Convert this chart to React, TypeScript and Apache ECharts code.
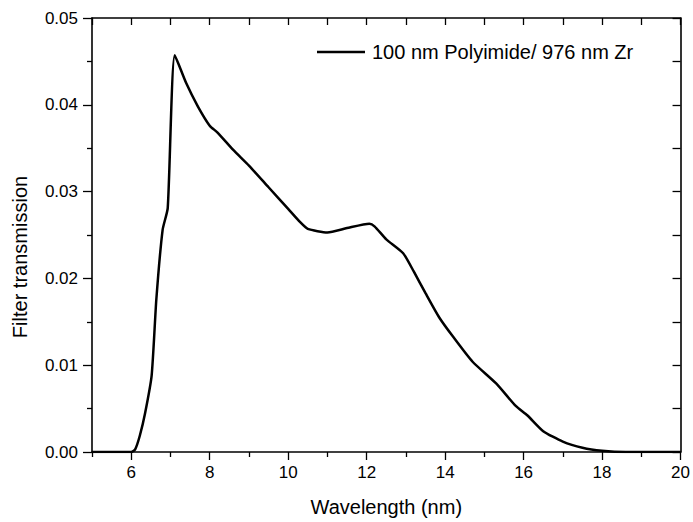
import React, { useEffect, useRef } from "react";
import * as echarts from "echarts";

const wavelength = [
  5.0, 6.0, 6.1, 6.22, 6.35, 6.52, 6.64, 6.8, 6.93, 7.11, 7.4, 7.7, 8.0, 8.2, 8.6, 9.0,
  9.5, 10.0, 10.3, 10.5, 11.0, 11.5, 12.07, 12.2, 12.5, 12.93, 13.2, 13.5, 13.85, 14.2,
  14.7, 15.3, 15.8, 16.1, 16.5, 17.0, 17.5, 18.0, 18.6, 20.0,
];
const transmission = [
  0, 0, 0.0003, 0.0019, 0.0044, 0.0088, 0.0176, 0.0256, 0.0281, 0.0457, 0.0425, 0.0398,
  0.0376, 0.0368, 0.0348, 0.033, 0.0305, 0.028, 0.0265, 0.0257, 0.0253, 0.0258, 0.0263,
  0.026, 0.0245, 0.0229, 0.0208, 0.0183, 0.0155, 0.0133, 0.0104, 0.0079, 0.0053, 0.0042,
  0.0024, 0.0012, 0.0005, 0.00015, 0, 0,
];
const xMajorTicks = [6, 8, 10, 12, 14, 16, 18, 20];
const xMinorTicks = [5, 7, 9, 11, 13, 15, 17, 19];
const seriesName = "100 nm Polyimide/ 976 nm Zr";
const xTitle = "Wavelength (nm)";
const yTitle = "Filter transmission";

export default function App() {
  const ref = useRef<HTMLDivElement>(null);
  useEffect(() => {
    const chart = echarts.init(ref.current!, null, { renderer: "svg" });
    const font = "Liberation Sans, Arial, sans-serif";
    const lineStyle = { color: "#000", width: 1.6 };
    const axisLine = { show: true, onZero: false, lineStyle };
    const tickStyle = { color: "#000", width: 1.3 };
    const labelStyle = { fontFamily: font, fontSize: 17, color: "#000" };
    chart.setOption({
      animation: false,
      backgroundColor: "#fff",
      grid: { left: 92, right: 11, top: 18, bottom: 69, containLabel: false },
      legend: {
        data: [seriesName],
        left: 312,
        top: 37,
        itemWidth: 48,
        itemHeight: 2.5,
        icon: "rect",
        itemStyle: { color: "#000" },
        textStyle: { fontFamily: font, fontSize: 20, color: "#000", padding: [0, 0, 0, 2] },
      },
      graphic: [
        {
          type: "text",
          x: 20,
          y: 257,
          rotation: Math.PI / 2,
          style: {
            text: yTitle,
            fontFamily: font,
            fontSize: 20,
            fill: "#000",
            align: "center",
            verticalAlign: "middle",
          },
        },
      ],
      xAxis: [
        {
          type: "value",
          position: "bottom",
          min: 5,
          max: 20,
          interval: 1,
          name: xTitle,
          nameLocation: "middle",
          nameGap: 45,
          nameTextStyle: { fontFamily: font, fontSize: 20, color: "#000" },
          axisLine,
          axisTick: { show: true, inside: false, length: 8, customValues: xMajorTicks, lineStyle: tickStyle },
          axisLabel: { ...labelStyle, margin: 12, customValues: xMajorTicks, formatter: (v: number) => String(v) },
          splitLine: { show: false },
        },
        {
          type: "value",
          position: "bottom",
          min: 5,
          max: 20,
          interval: 1,
          axisLine: { show: false },
          axisTick: { show: true, inside: false, length: 5, customValues: xMinorTicks, lineStyle: tickStyle },
          axisLabel: { show: false },
          splitLine: { show: false },
        },
        {
          type: "value",
          position: "top",
          min: 5,
          max: 20,
          interval: 1,
          axisLine,
          axisTick: { show: true, inside: true, length: 7, lineStyle: tickStyle },
          axisLabel: { show: false },
          splitLine: { show: false },
        },
      ],
      yAxis: [
        {
          type: "value",
          position: "left",
          min: 0,
          max: 0.05,
          interval: 0.01,
          axisLine,
          axisTick: { show: true, inside: false, length: 9, lineStyle: tickStyle },
          minorTick: { show: true, splitNumber: 2, length: 5, lineStyle: tickStyle },
          axisLabel: { ...labelStyle, margin: 14, formatter: (v: number) => v.toFixed(2) },
          splitLine: { show: false },
        },
        {
          type: "value",
          position: "right",
          min: 0,
          max: 0.05,
          interval: 0.005,
          axisLine,
          axisTick: { show: true, inside: true, length: 8, lineStyle: tickStyle },
          axisLabel: { show: false },
          splitLine: { show: false },
        },
      ],
      series: [
        {
          name: seriesName,
          type: "line",
          xAxisIndex: 0,
          yAxisIndex: 0,
          data: wavelength.map((x, i) => [x, transmission[i]]),
          symbol: "none",
          smooth: 0.2,
          lineStyle: { color: "#000", width: 2.5 },
          itemStyle: { color: "#000" },
        },
      ],
    });
    return () => chart.dispose();
  }, []);
  return (
    <div
      ref={ref}
      style={{ position: "fixed", left: 0, top: 0, width: 693, height: 522 }}
    />
  );
}
